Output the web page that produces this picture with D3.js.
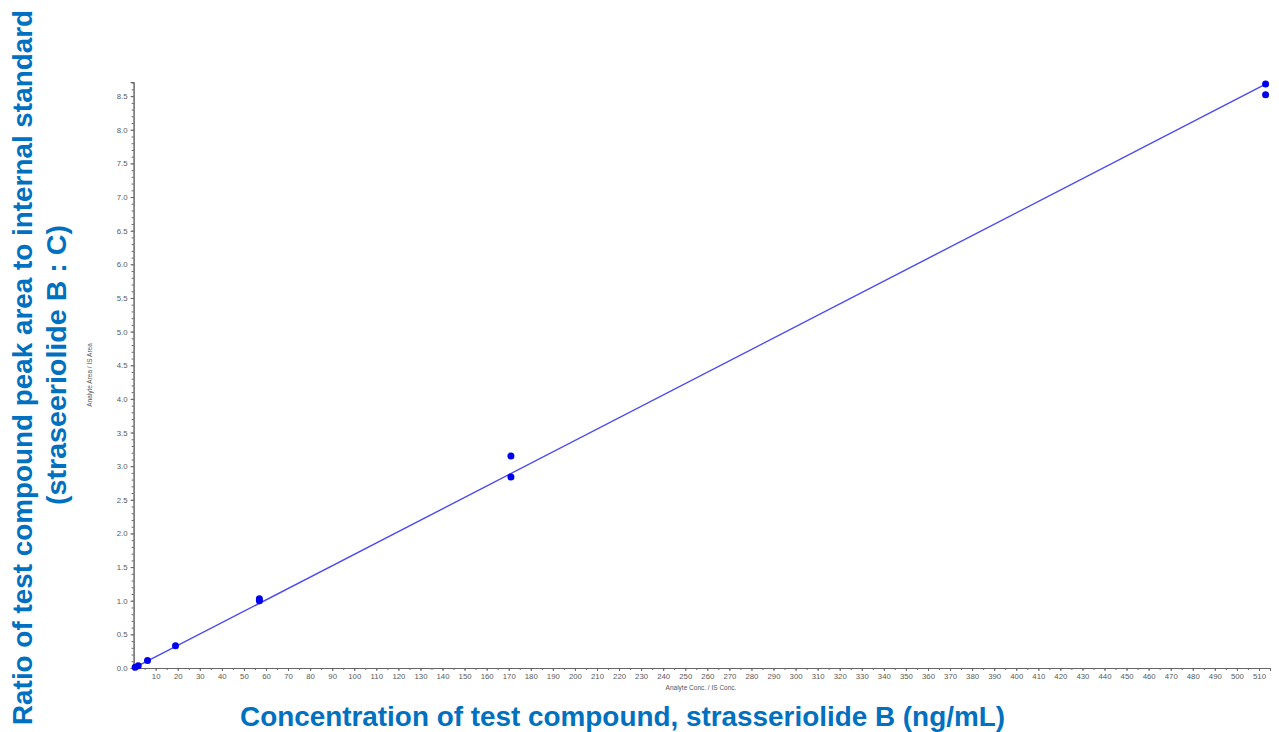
<!DOCTYPE html>
<html><head><meta charset="utf-8">
<script src="https://cdn.jsdelivr.net/npm/d3@7/dist/d3.min.js"></script>
<style>body{margin:0;background:#fff;} svg{display:block;}</style>
</head><body>
<svg id="c" width="1279" height="732"></svg>
<script>
const concentrations = [0.7, 2.1, 6.3, 19, 57, 57, 171, 171, 513, 513];
const ratios = [0.01, 0.035, 0.11, 0.33, 1.00, 1.03, 2.84, 3.15, 8.52, 8.68];
const fitLine = {slope: 0.01692, intercept: -0.003, from: 0, to: 513};
const xTicks = d3.range(10, 511, 10);
const yTicks = d3.range(0, 8.51, 0.5);
const xTitle = "Concentration of test compound, strasseriolide B (ng/mL)";
const yTitle1 = "Ratio of test compound peak area to internal standard";
const yTitle2 = "(straseeriolide B : C)";
const xSmall = "Analyte Conc. / IS Conc.";
const ySmall = "Analyte Area / IS Area";

const svg = d3.select("#c");
const x = d3.scaleLinear().domain([0, 515]).range([133.6, 1270]);
const y = d3.scaleLinear().domain([0, 8.71]).range([668, 82]);
const axisCol = "#666";
const font = "Liberation Sans, Arial, sans-serif";

// minor ticks
const gx = svg.append("g").attr("transform", "translate(0,668)");
gx.call(d3.axisBottom(x).tickValues(d3.range(5, 515, 5)).tickSize(2).tickFormat(""));
const gx2 = svg.append("g").attr("transform", "translate(0,668)");
gx2.call(d3.axisBottom(x).tickValues(xTicks).tickSize(3).tickPadding(2).tickFormat(d3.format("d")));
const gy = svg.append("g").attr("transform", "translate(133.6,0)");
gy.call(d3.axisLeft(y).tickValues(d3.range(0, 8.71, 0.1)).tickSize(2).tickFormat(""));
const gy2 = svg.append("g").attr("transform", "translate(133.6,0)");
gy2.call(d3.axisLeft(y).tickValues(yTicks).tickSize(3).tickPadding(3).tickFormat(d3.format(".1f")));
svg.selectAll(".domain").attr("stroke", axisCol);
svg.selectAll(".tick line").attr("stroke", axisCol);
svg.selectAll(".tick text").attr("fill", "#5a5a5a").attr("font-family", font).attr("font-size", 7.8);

// fit line
svg.append("line")
  .attr("x1", x(fitLine.from)).attr("y1", y(fitLine.slope*fitLine.from + fitLine.intercept))
  .attr("x2", x(fitLine.to)).attr("y2", y(fitLine.slope*fitLine.to + fitLine.intercept))
  .attr("stroke", "#4a4af5").attr("stroke-width", 1.4);

// points
svg.append("g").selectAll("circle").data(concentrations.map((c,i)=>[c, ratios[i]])).join("circle")
  .attr("cx", d=>x(d[0])).attr("cy", d=>y(d[1])).attr("r", 3.5).attr("fill", "#0000ee");

// small axis labels
svg.append("text").attr("x", 701).attr("y", 690).attr("text-anchor","middle")
  .attr("font-family",font).attr("font-size",6.5).attr("fill","#555").text(xSmall);
svg.append("text").attr("transform","translate(92,375) rotate(-90)").attr("text-anchor","middle")
  .attr("font-family",font).attr("font-size",6.5).attr("fill","#555").text(ySmall);

// big titles
const blue = "#0070C0";
svg.append("text").attr("x", 240).attr("y", 726)
  .attr("textLength", 765).attr("lengthAdjust","spacingAndGlyphs")
  .attr("font-family",font).attr("font-weight","bold").attr("font-size",27.5)
  .attr("fill", blue).text(xTitle);
svg.append("text").attr("transform","translate(32,725) rotate(-90)")
  .attr("textLength", 715).attr("lengthAdjust","spacingAndGlyphs")
  .attr("font-family",font).attr("font-weight","bold").attr("font-size",27.5)
  .attr("fill", blue).text(yTitle1);
svg.append("text").attr("transform","translate(66,505) rotate(-90)")
  .attr("textLength", 280).attr("lengthAdjust","spacingAndGlyphs")
  .attr("font-family",font).attr("font-weight","bold").attr("font-size",27.5)
  .attr("fill", blue).text(yTitle2);
</script>
</body></html>
